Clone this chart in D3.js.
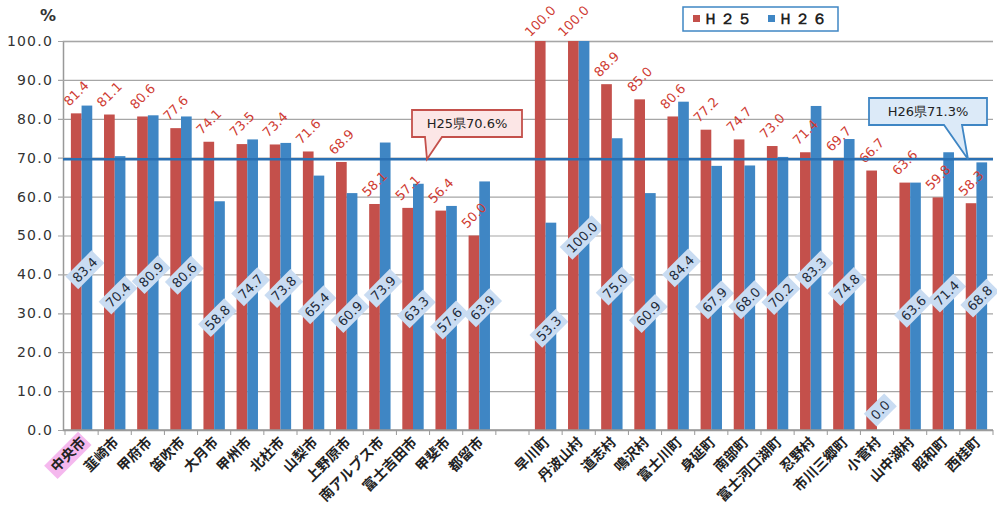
<!DOCTYPE html>
<html lang="ja">
  <head>
    <meta charset="utf-8">
    <title>H25 / H26</title>
    <script src="https://d3js.org/d3.v7.min.js"></script>
    <style>
      body { margin: 0; background: #fff; }
      .chart text { font-family: "DejaVu Sans", sans-serif; }
      .chart .cat { font-family: "Noto Sans CJK JP", sans-serif; font-weight: 700; font-size: 14px; fill: #222; }
    </style>
  </head>
  <body>
    <div class="chart" id="chart"></div>
    <script>
      "use strict"
      // categories (cities, then towns/villages)
      var cities = ["中央市", "韮崎市", "甲府市", "笛吹市", "大月市", "甲州市", "北杜市", "山梨市",
                    "上野原市", "南アルプス市", "富士吉田市", "甲斐市", "都留市"];
      var towns = ["早川町", "丹波山村", "道志村", "鳴沢村", "富士川町", "身延町", "南部町",
                   "富士河口湖町", "忍野村", "市川三郷町", "小菅村", "山中湖村", "昭和町", "西桂町"];
      // values, same order
      var h25 = [81.4, 81.1, 80.6, 77.6, 74.1, 73.5, 73.4, 71.6, 68.9, 58.1, 57.1, 56.4, 50.0,
                 100.0, 100.0, 88.9, 85.0, 80.6, 77.2, 74.7, 73.0, 71.4, 69.7, 66.7, 63.6, 59.8, 58.3];
      var h26 = [83.4, 70.4, 80.9, 80.6, 58.8, 74.7, 73.8, 65.4, 60.9, 73.9, 63.3, 57.6, 63.9,
                 53.3, 100.0, 75.0, 60.9, 84.4, 67.9, 68.0, 70.2, 83.3, 74.8, 0.0, 63.6, 71.4, 68.8];
      var yTicks = [0, 10, 20, 30, 40, 50, 60, 70, 80, 90, 100];
      var seriesNames = ["Ｈ２５", "Ｈ２６"];
      var refLine = 69.6;               // drawn prefecture line
      var refLabels = ["H25県70.6%", "H26県71.3%"];

      var corVermelho = "#c4504b", corAzul = "#3f86c4";

      var larguraSVG = 997, alturaSVG = 506;
      var margin = {top: 41, right: 4, bottom: 76, left: 65};

      var svg = d3.select("#chart").append("svg")
          .attr("width", larguraSVG)
          .attr("height", alturaSVG);

      // one empty slot between the two groups
      var names = cities.concat(["_gap"], towns);
      var dados = cities.concat(towns).map(function(c, i) {
        return {cat: c, h25: h25[i], h26: h26[i]};
      });

      var x = d3.scaleBand()
          .domain(names)
          .range([margin.left, larguraSVG - margin.right]);
      var x1 = d3.scaleBand()
          .domain(["h25", "h26"])
          .range([0, x.bandwidth()])
          .paddingOuter(0.55);
      var y = d3.scaleLinear()
          .domain([0, 100])
          .range([alturaSVG - margin.bottom, margin.top]);

      // gridlines + y axis
      svg.append("g")
          .attr("transform", "translate(" + (margin.left - 2) + ",0)")
          .call(d3.axisLeft(y).tickValues(yTicks).tickFormat(d3.format(".1f"))
                  .tickSize(-(larguraSVG - margin.left - margin.right + 2)).tickPadding(10))
          .call(function(g) {
            g.select(".domain").attr("stroke", "#999").attr("stroke-width", 1.5);
            g.selectAll(".tick line").attr("stroke", "#a6a6a6").attr("stroke-width", 1.2)
              .attr("x1", -5);
            g.selectAll(".tick text").attr("font-size", 14).attr("fill", "#333")
              .attr("letter-spacing", 1.2);
          });

      svg.append("text")
          .attr("x", 48).attr("y", 21)
          .attr("text-anchor", "middle")
          .attr("font-size", 16).attr("font-weight", 700).attr("fill", "#333")
          .text("%");

      // bars
      var grupos = svg.selectAll(".grupo")
          .data(dados)
          .enter().append("g")
          .attr("class", "grupo")
          .attr("transform", function(d) { return "translate(" + x(d.cat) + ",0)"; });

      grupos.append("rect")
          .attr("x", x1("h25")).attr("width", x1.bandwidth())
          .attr("y", function(d) { return y(d.h25); })
          .attr("height", function(d) { return y(0) - y(d.h25); })
          .attr("fill", corVermelho);
      grupos.append("rect")
          .attr("x", x1("h26")).attr("width", x1.bandwidth())
          .attr("y", function(d) { return y(d.h26); })
          .attr("height", function(d) { return y(0) - y(d.h26); })
          .attr("fill", corAzul);

      // x axis (ticks between categories)
      var xAxisY = y(0);
      svg.append("line")
          .attr("x1", margin.left - 2).attr("x2", larguraSVG - margin.right)
          .attr("y1", xAxisY).attr("y2", xAxisY)
          .attr("stroke", "#999").attr("stroke-width", 1.5);
      svg.selectAll(".xtick")
          .data(names.concat(["_end"]))
          .enter().append("line")
          .attr("x1", function(d, i) { return margin.left + i * x.step(); })
          .attr("x2", function(d, i) { return margin.left + i * x.step(); })
          .attr("y1", xAxisY).attr("y2", xAxisY + 5)
          .attr("stroke", "#999");

      // red value labels above bars
      grupos.append("text")
          .attr("transform", function(d) {
            return "translate(" + (x1("h25") + x1.bandwidth() / 2) + "," + (y(d.h25) - 20) + ") rotate(-45)";
          })
          .attr("text-anchor", "middle")
          .attr("dy", "0.35em")
          .attr("font-size", 13)
          .attr("fill", "#cf3b32")
          .text(function(d) { return d.h25.toFixed(1); });

      // blue value labels with box, at bar middle (kept a little above the axis)
      var rotulos = grupos.append("g")
          .attr("transform", function(d) {
            var ly = Math.min(y(d.h26 / 2) + 2, y(0) - 20);
            return "translate(" + (x1("h26") + x1.bandwidth() / 2 - 2) + "," + ly + ") rotate(-45)";
          });
      rotulos.append("rect").attr("fill", "#c9dcf2");
      rotulos.append("text")
          .attr("text-anchor", "middle")
          .attr("dy", "0.36em")
          .attr("font-size", 13)
          .attr("fill", "#1e2b3a")
          .text(function(d) { return d.h26.toFixed(1); });
      rotulos.each(function() {
        var g = d3.select(this);
        var w = g.select("text").node().getComputedTextLength() + 8;
        g.select("rect").attr("x", -w / 2).attr("y", -9).attr("width", w).attr("height", 18);
      });

      // category labels
      var catLabels = svg.selectAll(".cat")
          .data(dados)
          .enter().append("g")
          .attr("transform", function(d) {
            return "translate(" + (x(d.cat) + x.bandwidth() / 2 + 5) + "," + (xAxisY + 13) + ") rotate(-45)";
          });
      catLabels.filter(function(d) { return d.cat === "中央市"; })
          .append("rect")
          .attr("x", -46).attr("y", -14).attr("width", 48).attr("height", 19)
          .attr("fill", "#f5b8ee");
      catLabels.append("text")
          .attr("class", "cat")
          .attr("text-anchor", "end")
          .text(function(d) { return d.cat; });

      // prefecture line
      svg.append("line")
          .attr("x1", margin.left - 2).attr("x2", larguraSVG - margin.right)
          .attr("y1", y(refLine)).attr("y2", y(refLine))
          .attr("stroke", "#2a70b3").attr("stroke-width", 2.5);

      // callouts
      function callout(bx, by, bw, bh, t1, t2, tipX, fill, stroke, label) {
        var tipY = y(refLine);
        var p = d3.path();
        p.moveTo(bx, by);
        p.lineTo(bx + bw, by);
        p.lineTo(bx + bw, by + bh);
        p.lineTo(t2, by + bh);
        p.lineTo(tipX, tipY);
        p.lineTo(t1, by + bh);
        p.lineTo(bx, by + bh);
        p.closePath();
        svg.append("path").attr("d", p.toString())
          .attr("fill", fill).attr("stroke", stroke).attr("stroke-width", 1.8);
        svg.append("text")
          .attr("x", bx + bw / 2).attr("y", by + bh / 2)
          .attr("dy", "0.36em")
          .attr("text-anchor", "middle")
          .attr("font-size", 13).attr("fill", "#222")
          .attr("font-family", "Noto Sans CJK JP, sans-serif")
          .text(label);
      }
      callout(412, 110, 110, 27, 425, 442, 427, "#fce6e6", "#c4504b", refLabels[0]);
      callout(869, 98, 118, 27, 944, 962, 968, "#dceaf8", "#3f86c4", refLabels[1]);

      // legend
      var leg = svg.append("g");
      leg.append("rect")
          .attr("x", 683).attr("y", 7).attr("width", 155).attr("height", 24)
          .attr("fill", "#fff").attr("stroke", "#3f86c4").attr("stroke-width", 1.5);
      var itens = leg.selectAll(".item")
          .data(seriesNames)
          .enter().append("g")
          .attr("transform", function(d, i) { return "translate(" + (693 + i * 75) + ",19)"; });
      itens.append("rect")
          .attr("x", 0).attr("y", -4).attr("width", 7).attr("height", 7)
          .attr("fill", function(d, i) { return i === 0 ? corVermelho : corAzul; });
      itens.append("text")
          .attr("x", 10).attr("dy", "0.36em")
          .attr("font-size", 15).attr("font-weight", 700).attr("fill", "#222")
          .attr("font-family", "Noto Sans CJK JP, sans-serif")
          .attr("letter-spacing", 2)
          .text(function(d) { return d; });
    </script>
  </body>
</html>
